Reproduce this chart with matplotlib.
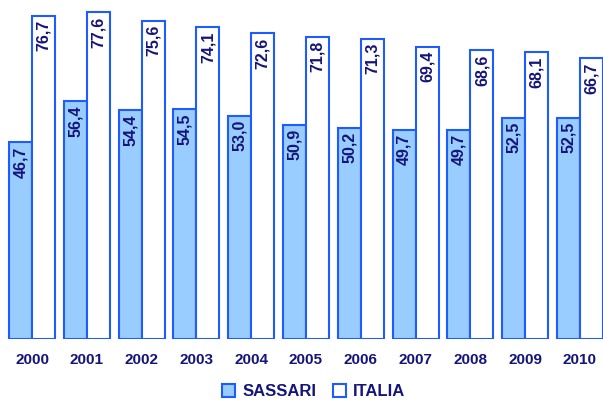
import numpy as np
import matplotlib.pyplot as plt

# dati
anni = ['2000', '2001', '2002', '2003', '2004', '2005', '2006', '2007', '2008', '2009', '2010']
sassari = [46.7, 56.4, 54.4, 54.5, 53.0, 50.9, 50.2, 49.7, 49.7, 52.5, 52.5]
italia = [76.7, 77.6, 75.6, 74.1, 72.6, 71.8, 71.3, 69.4, 68.6, 68.1, 66.7]

blu = '#1f5cff'
azzurro = '#99ccff'
testo = '#14147a'
font = 'Liberation Sans'

fig = plt.figure(figsize=(6.03, 4.04), dpi=100)
ax = fig.add_axes([0, 0.161, 1, 0.839])

x = np.arange(len(anni))
w = 0.42
b1 = ax.bar(x - w/2, sassari, w, color=azzurro, edgecolor=blu, linewidth=1.5, label='SASSARI')
b2 = ax.bar(x + w/2, italia, w, color='white', edgecolor=blu, linewidth=1.5, label='ITALIA')

for xi, v in zip(x - w/2, sassari):
    ax.text(xi, v - 1.0, f'{v:.1f}'.replace('.', ','), rotation=90, ha='center', va='top',
            fontsize=11.5, fontweight='bold', color=testo, family=font)
for xi, v in zip(x + w/2, italia):
    ax.text(xi, v - 1.0, f'{v:.1f}'.replace('.', ','), rotation=90, ha='center', va='top',
            fontsize=11.5, fontweight='bold', color=testo, family=font)

ax.set_xlim(-0.584, 10.42)
ax.set_ylim(0, 80.5)
ax.set_xticks(x)
ax.set_xticklabels(anni, fontsize=11, fontweight='bold', color=testo, family=font)
ax.tick_params(axis='x', length=0, pad=10)
ax.set_yticks([])
for s in ax.spines.values():
    s.set_visible(False)

leg = fig.legend(handles=[b1, b2], loc='lower center', bbox_to_anchor=(0.52, -0.025), ncol=2,
                 frameon=False, handlelength=0.8, handleheight=0.8, handletextpad=0.4,
                 columnspacing=1.0, prop={'family': font, 'weight': 'bold', 'size': 12})
for t in leg.get_texts():
    t.set_color(testo)

fig.savefig('out.png', dpi=100)
